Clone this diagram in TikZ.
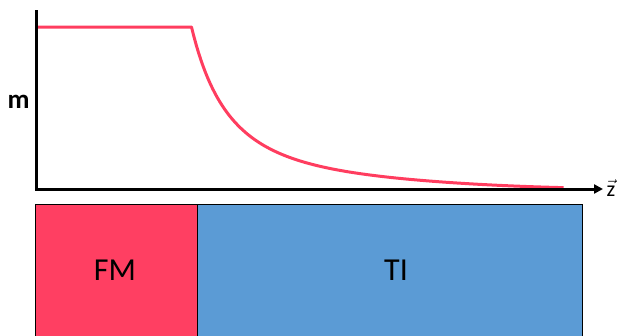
\documentclass[tikz,border=0pt]{standalone}
\usepackage{fontspec}
\setmainfont{Carlito}
\usetikzlibrary{arrows.meta}
\definecolor{fmred}{HTML}{FF3F62}
\definecolor{tiblue}{HTML}{5B9BD5}
\definecolor{curvered}{HTML}{FF3D5F}
\tikzset{
  axisline/.style={line width=3pt, black},
  region/.style={draw=black, line width=1pt, inner sep=0pt, anchor=north west},
  regionlabel/.style={font=\fontsize{32}{32}\selectfont, text=black},
  curve/.style={line width=3pt, curvered, line join=round}
}
\begin{document}
\begin{tikzpicture}[x=1pt, y=-1pt]
\useasboundingbox (0,0) rectangle (619,335);
\clip (0,0) rectangle (619,335);
% regions
\node[region, fill=fmred, minimum width=162pt, minimum height=140pt] (fm) at (35,204) {};
\node[region, fill=tiblue, minimum width=385pt, minimum height=140pt] (ti) at (197,204) {};
\node[regionlabel] (fmlabel) at (115,270) {FM};
\node[regionlabel] (tilabel) at (396,270) {TI};
% curve
\draw[curve] (37,27) -- (191.5,27)
  -- plot[domain=0:372, samples=160, variable=\t]
     ({191.5+\t}, {189 - 162/((1+\t/78)*(1+\t/78))*exp(-((\t/350)^4))});
% axes
\coordinate (origin) at (36,189);
\coordinate (ytop) at (36,11);
\coordinate (xend) at (603,189);
\draw[axisline, line cap=rect] (ytop) -- (origin);
\draw[axisline, -{Triangle[length=9pt, width=9pt]}] (origin) -- (xend);
\node[font=\bfseries\fontsize{27}{27}\selectfont, anchor=base] (mlabel) at (18.5,108) {m};
\node[font=\fontsize{22}{22}\selectfont, anchor=base] (zlabel) at (611,196) {$\vec{\textrm{z}}$};
\end{tikzpicture}
\end{document}
